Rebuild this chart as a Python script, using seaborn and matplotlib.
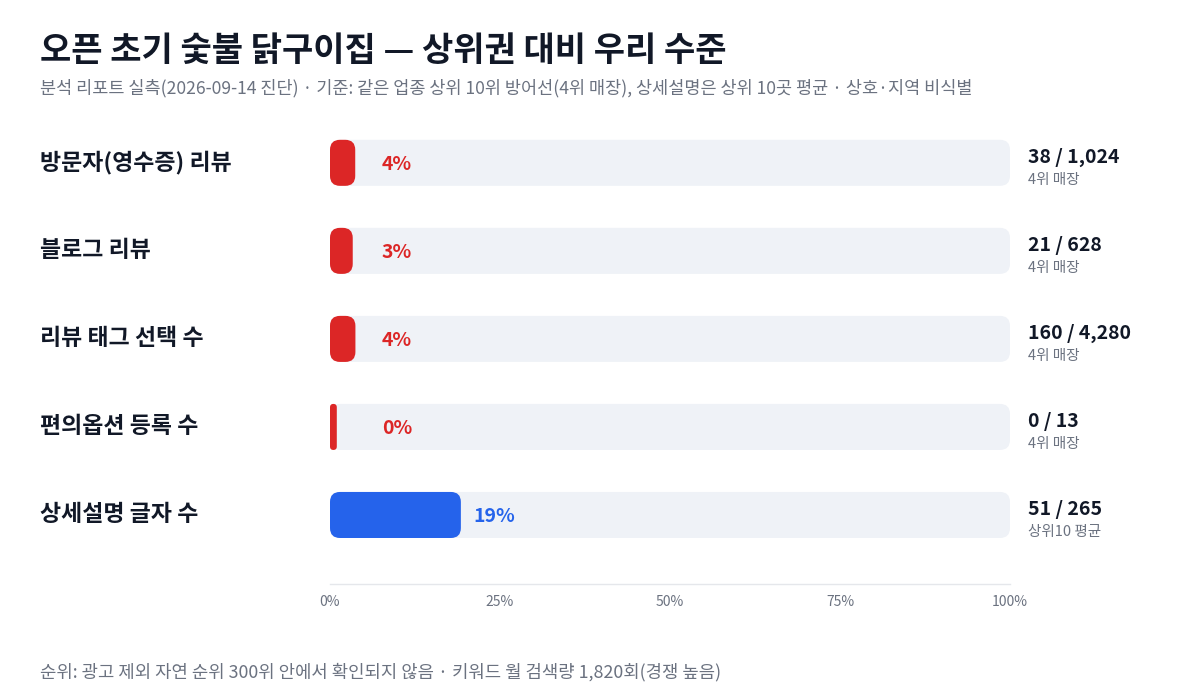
import numpy as np
import pandas as pd
import matplotlib
matplotlib.use("Agg")
import matplotlib.pyplot as plt
from matplotlib.patches import FancyBboxPatch
import seaborn as sns

# ---- data ----
metrics = ["방문자(영수증) 리뷰", "블로그 리뷰", "리뷰 태그 선택 수", "편의옵션 등록 수", "상세설명 글자 수"]
ours = [38, 21, 160, 0, 51]
benchmark = [1024, 628, 4280, 13, 265]
bench_note = ["4위 매장", "4위 매장", "4위 매장", "4위 매장", "상위10 평균"]
tick_vals = [0, 25, 50, 75, 100]

RED = "#DC2626"
BLUE = "#2563EB"
TRACK = "#EFF2F7"
DARK = "#111827"
GRAY = "#6B7280"

df = pd.DataFrame({"metric": metrics, "ours": ours, "top": benchmark, "note": bench_note})
df["pct"] = df.ours / df.top * 100
df["shown"] = df.pct.clip(lower=1)  # tiny stub so 0% still shows
df["color"] = [BLUE if n.startswith("상위") else RED for n in df.note]
df["track"] = 100

sns.set_theme(style="white")
plt.rcParams["font.family"] = ["Noto Sans CJK KR", "DejaVu Sans"]

fig = plt.figure(figsize=(12, 7), dpi=100)
ax = fig.add_axes([0.275, 1 - 584 / 700, 680 / 1200, 474 / 700])

sns.barplot(data=df, x="track", y="metric", color=TRACK, saturation=1,
            width=0.523, ax=ax, zorder=1)
sns.barplot(data=df, x="shown", y="metric", hue="metric", palette=list(df.color),
            saturation=1, legend=False, width=0.523, ax=ax, zorder=2)

ax.set_xlim(0, 100)
ax.set_ylim(4.784, -0.6)

# swap the square bars for rounded ones
px_x = 680 / 100          # pixels per x unit
px_y = 88.0               # pixels per row
radius_px = 10
for p in list(ax.patches):
    x, y, w, h = p.get_x(), p.get_y(), p.get_width(), p.get_height()
    r = min(radius_px / px_x, w / 2)
    rb = FancyBboxPatch((x, y), w, h, boxstyle=f"round,pad=0,rounding_size={r}",
                        mutation_aspect=px_x / px_y, facecolor=p.get_facecolor(),
                        edgecolor="none", zorder=p.get_zorder())
    p.remove()
    ax.add_patch(rb)

for i, row in df.iterrows():
    ax.text(max(row.pct, 5.8) + 1.8, i + 0.02, f"{row.pct:.0f}%", color=row.color,
            fontsize=14, fontweight="bold", va="center", ha="left", zorder=3)
    ax.text(102.6, i - 0.06, f"{row.ours:,} / {row.top:,}", color=DARK,
            fontsize=14, fontweight="bold", va="center", ha="left")
    ax.text(102.6, i + 0.19, row.note, color=GRAY, fontsize=10.5, va="center", ha="left")
    ax.text(-42.6, i, row.metric, color=DARK, fontsize=16.5, fontweight="bold",
            va="center", ha="left")

ax.set_xticks(tick_vals)
ax.set_xticklabels([f"{t}%" for t in tick_vals], color=GRAY, fontsize=10)
ax.set_yticks([])
ax.set_xlabel("")
ax.set_ylabel("")
ax.tick_params(axis="x", length=0, pad=8)
for s in ["top", "right", "left"]:
    ax.spines[s].set_visible(False)
ax.spines["bottom"].set_color("#E5E7EB")
ax.spines["bottom"].set_linewidth(1)

fig.text(40 / 1200, 1 - 50 / 700, "오픈 초기 숯불 닭구이집 — 상위권 대비 우리 수준",
         fontsize=24.5, fontweight="bold", color=DARK, va="center", ha="left")
fig.text(40 / 1200, 1 - 88 / 700,
         "분석 리포트 실측(2026-09-14 진단) · 기준: 같은 업종 상위 10위 방어선(4위 매장), 상세설명은 상위 10곳 평균 · 상호·지역 비식별",
         fontsize=12.6, color=GRAY, va="center", ha="left")
fig.text(40 / 1200, 1 - 672 / 700,
         "순위: 광고 제외 자연 순위 300위 안에서 확인되지 않음 · 키워드 월 검색량 1,820회(경쟁 높음)",
         fontsize=12.8, color=GRAY, va="center", ha="left")

fig.savefig("out.png", dpi=100, facecolor="white")
